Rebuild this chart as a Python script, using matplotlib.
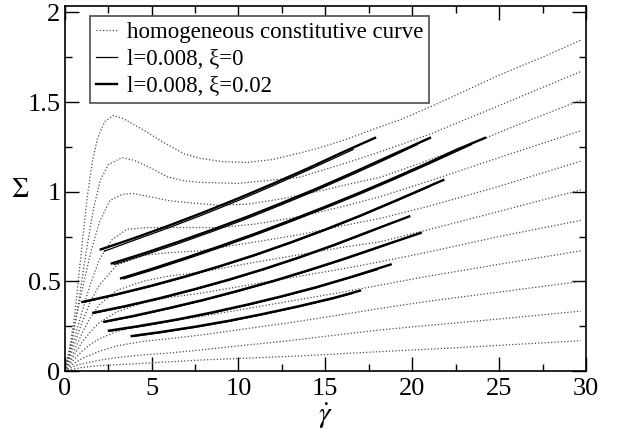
import matplotlib
matplotlib.use("Agg")
import matplotlib.pyplot as plt
from matplotlib.lines import Line2D
from matplotlib.ticker import MultipleLocator, FuncFormatter

plt.rcParams['font.family'] = ['Liberation Serif', 'DejaVu Serif']
plt.rcParams['mathtext.fontset'] = 'stix'

# homogeneous constitutive curves, top to bottom
c1_x = [0, 0.25, 0.6, 1.0, 1.3, 1.6, 1.9, 2.3, 2.8, 3.3, 3.7, 4.6, 5.6, 6.9, 7.8, 9.0,
        10.5, 12.0, 13.5, 14.5, 16.1, 18.15, 19.3, 21.2, 23.0, 25.0, 27.5, 29.7]
c1_y = [0, 0.09, 0.33, 0.70, 0.97, 1.17, 1.30, 1.39, 1.425, 1.41, 1.39, 1.34, 1.28, 1.21,
        1.186, 1.168, 1.163, 1.18, 1.215, 1.24, 1.288, 1.362, 1.40, 1.48, 1.56, 1.65, 1.75, 1.845]
c2_x = [0, 0.4, 0.8, 1.2, 1.65, 2.04, 2.5, 3.3, 4.0, 5.0, 5.9, 6.93, 7.8, 10.0, 13.5,
        16.13, 18.15, 21.0, 25.0, 29.7]
c2_y = [0, 0.15, 0.38, 0.64, 0.90, 1.06, 1.15, 1.19, 1.175, 1.13, 1.083, 1.06, 1.052,
        1.046, 1.08, 1.158, 1.222, 1.32, 1.48, 1.67]
c3_x = [0, 0.5, 1.0, 1.5, 2.0, 2.6, 3.3, 3.94, 5.0, 6.0, 7.0, 8.84, 10.5, 12.5, 14.5,
        16.13, 18.15, 20.5, 23.0, 26.0, 29.7]
c3_y = [0, 0.22, 0.45, 0.66, 0.83, 0.95, 0.985, 0.99, 0.97, 0.95, 0.94, 0.925, 0.93,
        0.96, 1.0, 1.037, 1.08, 1.16, 1.25, 1.37, 1.51]
c4_x = [0, 0.5, 1.0, 1.5, 2.0, 2.7, 3.57, 4.84, 6.0, 7.33, 8.94, 11.0, 13.5, 16.13,
        18.15, 21.0, 25.0, 29.7]
c4_y = [0, 0.16, 0.33, 0.49, 0.62, 0.73, 0.79, 0.80, 0.80, 0.80, 0.80, 0.82, 0.86, 0.92,
        0.972, 1.06, 1.19, 1.34]
c5_x = [0, 0.5, 1.0, 1.46, 2.0, 3.0, 4.5, 6.0, 7.79, 9.0, 11.0, 13.5, 16.0, 18.15, 21.0,
        25.0, 29.7]
c5_y = [0, 0.13, 0.27, 0.38, 0.48, 0.59, 0.645, 0.66, 0.67, 0.69, 0.72, 0.76, 0.81, 0.851,
        0.92, 1.03, 1.17]
c6_x = [0, 0.5, 1.0, 1.5, 2.0, 3.0, 4.5, 6.0, 7.79, 10.0, 13.0, 16.0, 18.15, 21.0, 25.0, 29.7]
c6_y = [0, 0.10, 0.21, 0.30, 0.37, 0.45, 0.50, 0.53, 0.55, 0.59, 0.64, 0.69, 0.72, 0.79,
        0.89, 1.01]
c7_x = [0, 0.5, 1.0, 1.5, 2.0, 3.0, 4.5, 6.0, 7.79, 10.0, 13.0, 16.0, 18.15, 21.0, 25.0, 29.7]
c7_y = [0, 0.08, 0.16, 0.22, 0.27, 0.33, 0.38, 0.41, 0.433, 0.47, 0.52, 0.57, 0.609, 0.665,
        0.75, 0.84]
c8_x = [0, 0.5, 1.0, 1.5, 2.0, 3.0, 4.5, 6.0, 7.79, 10.0, 13.0, 16.0, 18.15, 21.0, 25.0, 29.7]
c8_y = [0, 0.06, 0.11, 0.15, 0.18, 0.22, 0.26, 0.28, 0.303, 0.34, 0.39, 0.44, 0.479, 0.53,
        0.595, 0.67]
c9_x = [0, 0.5, 1.0, 2.0, 3.0, 4.5, 6.0, 7.79, 10.0, 13.0, 16.0, 18.15, 21.0, 25.0, 29.7]
c9_y = [0, 0.04, 0.07, 0.11, 0.14, 0.165, 0.18, 0.20, 0.23, 0.27, 0.315, 0.349, 0.39, 0.44, 0.50]
c10_x = [0, 0.5, 1.0, 2.0, 3.0, 4.5, 6.0, 7.79, 10.0, 13.0, 16.0, 18.15, 21.0, 25.0, 29.7]
c10_y = [0, 0.025, 0.04, 0.06, 0.075, 0.09, 0.10, 0.117, 0.14, 0.17, 0.205, 0.229, 0.255,
         0.29, 0.334]
c11_x = [0, 0.5, 1.0, 2.0, 4.0, 7.79, 10.0, 13.54, 18.15, 22.0, 25.0, 29.7]
c11_y = [0, 0.01, 0.02, 0.03, 0.04, 0.061, 0.07, 0.084, 0.108, 0.127, 0.143, 0.169]

curves = [(c1_x, c1_y), (c2_x, c2_y), (c3_x, c3_y), (c4_x, c4_y), (c5_x, c5_y),
          (c6_x, c6_y), (c7_x, c7_y), (c8_x, c8_y), (c9_x, c9_y), (c10_x, c10_y),
          (c11_x, c11_y)]

# l=0.008, xi=0.02 (thick)
p1_x = [2.08, 4, 6, 8, 10, 12, 14, 16, 17.86]
p1_y = [0.678, 0.741, 0.811, 0.885, 0.963, 1.045, 1.130, 1.220, 1.30]
p2_x = [2.71, 4.5, 6.5, 8.5, 10.5, 12.5, 14.5, 16.5, 18.5, 21.02]
p2_y = [0.60, 0.654, 0.719, 0.788, 0.860, 0.937, 1.017, 1.102, 1.190, 1.30]
p3_x = [3.25, 5, 7, 9, 11, 13, 15, 17, 19, 21, 22.6, 24.19]
p3_y = [0.517, 0.569, 0.632, 0.698, 0.767, 0.840, 0.916, 0.995, 1.078, 1.164, 1.236, 1.30]
p4_x = [1.02, 3, 5, 7, 9, 11, 13, 15, 17, 19, 21.79]
p4_y = [0.385, 0.428, 0.476, 0.529, 0.587, 0.649, 0.717, 0.789, 0.866, 0.948, 1.065]
p5_x = [1.65, 3.5, 5.5, 7.5, 9.5, 11.5, 13.5, 15.5, 17.5, 19.83]
p5_y = [0.325, 0.362, 0.407, 0.457, 0.511, 0.570, 0.634, 0.703, 0.777, 0.862]
p6_x = [2.28, 4, 6, 8, 10, 12, 14, 16, 18, 20.49]
p6_y = [0.275, 0.308, 0.351, 0.397, 0.448, 0.502, 0.561, 0.623, 0.689, 0.77]
p7_x = [2.55, 4.5, 6.5, 8.5, 10.5, 12.5, 14.5, 16.5, 18.76]
p7_y = [0.225, 0.254, 0.288, 0.327, 0.370, 0.417, 0.468, 0.525, 0.594]
p8_x = [3.86, 5.5, 7.5, 9.5, 11.5, 13.5, 15.5, 17.0]
p8_y = [0.195, 0.217, 0.247, 0.281, 0.320, 0.362, 0.408, 0.448]
thick = [(p1_x, p1_y), (p2_x, p2_y), (p3_x, p3_y), (p4_x, p4_y),
         (p5_x, p5_y), (p6_x, p6_y), (p7_x, p7_y), (p8_x, p8_y)]

# l=0.008, xi=0 (thin), runs just under the thick one and stops a little earlier
q1_x = [2.28, 4, 6, 8, 10, 12, 14, 16.6]
q1_y = [0.668, 0.729, 0.799, 0.873, 0.951, 1.034, 1.120, 1.235]
q2_x = [2.85, 4.5, 6.5, 8.5, 10.5, 12.5, 14.5, 16.5, 18.5, 20.3]
q2_y = [0.594, 0.644, 0.709, 0.778, 0.850, 0.928, 1.008, 1.093, 1.181, 1.263]
q3_x = [3.4, 5, 7, 9, 11, 13, 15, 17, 19, 21, 23.4]
q3_y = [0.514, 0.561, 0.624, 0.690, 0.759, 0.832, 0.908, 0.987, 1.070, 1.156, 1.262]
q4_x = [1.1, 3, 5, 7, 9, 11, 13, 15, 17, 19, 21.0]
q4_y = [0.383, 0.424, 0.472, 0.525, 0.583, 0.645, 0.713, 0.785, 0.862, 0.944, 1.028]
q5_x = [1.7, 3.5, 5.5, 7.5, 9.5, 11.5, 13.5, 15.5, 17.5, 18.87]
q5_y = [0.322, 0.358, 0.403, 0.453, 0.507, 0.566, 0.630, 0.699, 0.773, 0.828]
q6_x = [2.3, 4, 6, 8, 10, 12, 14, 16, 18, 19.49]
q6_y = [0.272, 0.304, 0.347, 0.393, 0.444, 0.498, 0.557, 0.619, 0.685, 0.737]
q7_x = [2.6, 4.5, 6.5, 8.5, 10.5, 12.5, 14.5, 16.5, 18.0]
q7_y = [0.222, 0.250, 0.284, 0.323, 0.366, 0.413, 0.464, 0.521, 0.565]
q8_x = [3.9, 5.5, 7.5, 9.5, 11.5, 13.5, 15.5, 16.6]
q8_y = [0.192, 0.213, 0.243, 0.277, 0.316, 0.358, 0.404, 0.433]
thin = [(q1_x, q1_y), (q2_x, q2_y), (q3_x, q3_y), (q4_x, q4_y),
        (q5_x, q5_y), (q6_x, q6_y), (q7_x, q7_y), (q8_x, q8_y)]

fig = plt.figure(figsize=(6.28, 4.30), dpi=100)
ax = fig.add_axes([0.1029, 0.1372, 0.8302, 0.8495])

dot_style = dict(color='0.3', lw=0.9, ls=(0, (1, 1.6)))
for cx, cy in curves:
    ax.plot(cx, cy, **dot_style)
for sx, sy in thin:
    ax.plot(sx, sy, color='black', lw=0.9)
for sx, sy in thick:
    ax.plot(sx, sy, color='black', lw=1.7)

ax.set_xlim(0, 30)
ax.set_ylim(0, 2.037)
ax.xaxis.set_major_locator(MultipleLocator(5))
ax.xaxis.set_minor_locator(MultipleLocator(2.5))
ax.yaxis.set_major_locator(MultipleLocator(0.5))
ax.yaxis.set_minor_locator(MultipleLocator(0.25))
ax.yaxis.set_major_formatter(FuncFormatter(lambda v, p: f"{v:g}"))
ax.tick_params(which='both', direction='in', top=True, right=True, labelsize=19)
ax.tick_params(which='major', length=10, width=1.0)
ax.tick_params(which='minor', length=5, width=1.0)
ax.tick_params(axis='y', which='major', pad=3)
ax.tick_params(axis='x', which='major', pad=5)
for s in ax.spines.values():
    s.set_linewidth(1.2)

ax.set_xlabel(r'$\dot{\gamma}$', fontsize=21, labelpad=1)
ax.set_ylabel(r'$\Sigma$', fontsize=19.5, rotation=0, va='center', ha='center')
ax.yaxis.set_label_coords(-0.086, 0.495)

handles = [Line2D([], [], **dot_style),
           Line2D([], [], color='black', lw=0.9),
           Line2D([], [], color='black', lw=1.7)]
labels = ['homogeneous constitutive curve', 'l=0.008, ξ=0', 'l=0.008, ξ=0.02']
leg = ax.legend(handles, labels, loc='upper left', bbox_to_anchor=(0.049, 0.972),
                fontsize=16.5, frameon=True, fancybox=False, framealpha=1,
                edgecolor='0.3', handlelength=0.9, handletextpad=0.45,
                labelspacing=0.27, borderpad=0.25, borderaxespad=0)
leg.get_frame().set_linewidth(1.2)

fig.savefig('out.png', dpi=100)
